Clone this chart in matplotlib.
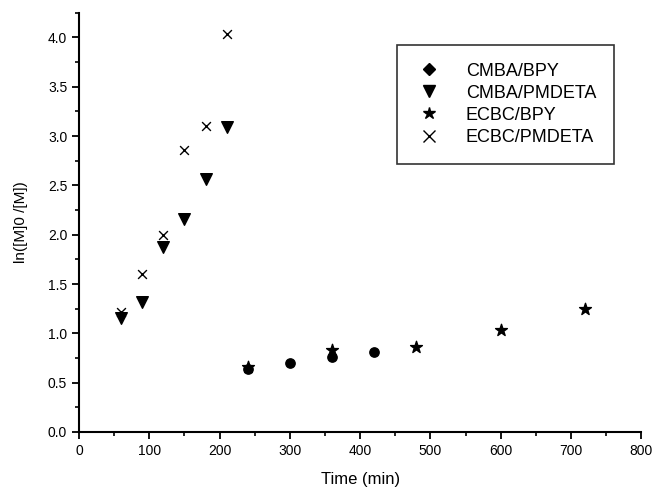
import matplotlib.pyplot as plt
from matplotlib.lines import Line2D
from matplotlib.ticker import MultipleLocator

# CMBA/BPY
t_cmba_bpy = [240, 300, 360, 420]
y_cmba_bpy = [0.64, 0.70, 0.76, 0.815]
# CMBA/PMDETA
t_cmba_pm = [60, 90, 120, 150, 180, 210]
y_cmba_pm = [1.16, 1.32, 1.875, 2.16, 2.565, 3.09]
# ECBC/BPY
t_ecbc_bpy = [240, 360, 480, 600, 720]
y_ecbc_bpy = [0.66, 0.83, 0.86, 1.03, 1.25]
# ECBC/PMDETA
t_ecbc_pm = [60, 90, 120, 150, 180, 210]
y_ecbc_pm = [1.22, 1.60, 2.0, 2.86, 3.10, 4.03]

plt.rcParams["font.family"] = ["Liberation Sans", "DejaVu Sans"]

fig = plt.figure(figsize=(6.53, 4.92), dpi=100)
ax = fig.add_axes([0.121, 0.122, 0.861, 0.852])

ax.scatter(t_cmba_bpy, y_cmba_bpy, marker="o", s=45, color="black", zorder=3)
ax.scatter(t_cmba_pm, y_cmba_pm, marker="v", s=70, color="black", zorder=3)
ax.scatter(t_ecbc_bpy, y_ecbc_bpy, marker="*", s=80, color="black", zorder=3)
ax.scatter(t_ecbc_pm, y_ecbc_pm, marker="x", s=40, color="black", linewidths=1.0, zorder=3)

ax.set_xlim(0, 800)
ax.set_ylim(0, 4.25)
ax.spines["top"].set_visible(False)
ax.spines["right"].set_visible(False)
ax.spines["left"].set_linewidth(1.5)
ax.spines["bottom"].set_linewidth(1.5)
ax.xaxis.set_major_locator(MultipleLocator(100))
ax.xaxis.set_minor_locator(MultipleLocator(50))
ax.yaxis.set_major_locator(MultipleLocator(0.5))
ax.yaxis.set_minor_locator(MultipleLocator(0.25))
ax.tick_params(which="major", direction="out", length=5, width=1.3, labelsize=10)
ax.tick_params(which="minor", direction="out", length=3, width=1.2)
ax.set_yticklabels([f"{v:.1f}" for v in ax.get_yticks()])

ax.set_xlabel("Time (min)", fontsize=12, labelpad=10)
ax.set_ylabel("ln([M]0 /[M])", fontsize=11, labelpad=14)

handles = [
    Line2D([], [], marker="D", color="black", linestyle="none", markersize=6),
    Line2D([], [], marker="v", color="black", linestyle="none", markersize=9),
    Line2D([], [], marker="*", color="black", linestyle="none", markersize=9),
    Line2D([], [], marker="x", color="black", linestyle="none", markersize=8),
]
labels = ["CMBA/BPY", "CMBA/PMDETA", "ECBC/BPY", "ECBC/PMDETA"]
leg = ax.legend(handles, labels, loc="upper left", bbox_to_anchor=(0.566, 0.924),
                fontsize=13, frameon=True, fancybox=False, edgecolor="black",
                handlelength=1.5, handletextpad=1.3, borderpad=1.0, borderaxespad=0,
                labelspacing=0.28)
leg.get_frame().set_linewidth(1.2)

fig.savefig("out.png", dpi=100)
